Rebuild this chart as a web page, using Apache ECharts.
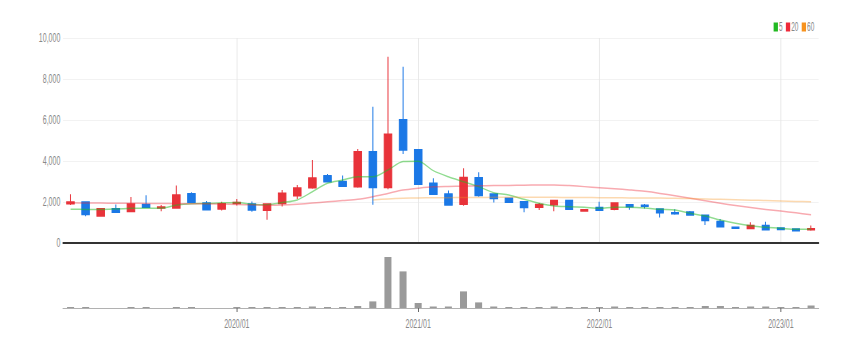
<!DOCTYPE html>
<html><head><meta charset="utf-8">
<script src="https://cdn.jsdelivr.net/npm/echarts@6/dist/echarts.min.js"></script>
<style>
html,body{margin:0;padding:0;background:#fff;overflow:hidden}
#wrap{width:859px;height:347px;overflow:hidden;position:relative}
#c{width:1591px;height:347px;transform:scaleX(0.54);transform-origin:0 0;position:absolute;left:0;top:0}
</style>
</head><body><div id="wrap"><div id="c"></div></div>
<script>
const categories = ['2019/02','2019/03','2019/04','2019/05','2019/06','2019/07','2019/08','2019/09','2019/10','2019/11','2019/12',
'2020/01','2020/02','2020/03','2020/04','2020/05','2020/06','2020/07','2020/08','2020/09','2020/10','2020/11','2020/12',
'2021/01','2021/02','2021/03','2021/04','2021/05','2021/06','2021/07','2021/08','2021/09','2021/10','2021/11','2021/12',
'2022/01','2022/02','2022/03','2022/04','2022/05','2022/06','2022/07','2022/08','2022/09','2022/10','2022/11','2022/12',
'2023/01','2023/02','2023/03'];
// [open, close, low, high]
const ohlc = [
[1920,1990,1850,2380],[1990,1400,1300,2000],[1330,1660,1310,1700],[1660,1510,1480,1880],[1550,1890,1500,2250],
[1870,1750,1720,2330],[1720,1750,1550,1850],[1720,2340,1700,2800],[2400,1990,1960,2480],[1950,1630,1600,2050],
[1660,1910,1590,2010],[1940,1970,1830,2150],[1900,1620,1530,2020],[1610,1890,1130,1920],[1940,2420,1780,2590],
[2310,2670,2150,2830],[2700,3160,2650,4050],[3270,3000,2950,3370],[2990,2780,2730,3290],[2750,4450,2700,4590],
[4450,2720,1860,6650],[2720,5300,2620,9090],[6000,4540,4340,8600],[4540,2870,2840,4560],[2910,2380,2350,3160],
[2380,1860,1840,2560],[1900,3190,1820,3650],[3170,2330,2260,3450],[2380,2180,1970,2400],[2180,1990,1970,2200],
[2000,1740,1500,2030],[1750,1870,1610,1950],[1870,2060,1550,2080],[2060,1650,1630,2080],[1570,1620,1560,1660],
[1720,1600,1590,2010],[1650,1940,1600,1960],[1860,1770,1620,1880],[1830,1800,1680,1900],[1650,1480,1250,1660],
[1470,1440,1380,1650],[1500,1370,1350,1560],[1350,1110,880,1370],[1040,800,790,1170],[760,730,720,770],
[720,850,700,1010],[850,650,640,1040],[720,670,660,740],[670,610,600,680],[650,690,600,850]];
const ma5 = [1650,1640,1640,1660,1690,1700,1700,1850,1920,1930,1960,1970,1890,1870,1970,2100,2500,2910,3070,3230,
3230,3560,3970,3990,3530,3230,2990,2750,2455,2340,2130,1935,1800,1770,1740,1690,1740,1740,1710,1645,
1610,1450,1320,1120,960,845,765,715,670,670];
const ma20 = [1960,1950,1950,1940,1940,1930,1930,1920,1920,1910,1900,1880,1860,1840,1850,1890,1950,2010,2070,2130,
2260,2420,2580,2670,2740,2760,2770,2790,2800,2810,2820,2830,2830,2800,2750,2700,2650,2590,2520,2420,
2300,2180,2060,1940,1830,1730,1640,1560,1470,1380];
const ma60 = ['-','-','-','-','-','-','-','-','-','-','-','-','-','-','-','-','-','-','-','-',
2100,2150,2180,2200,2210,2210,2220,2220,2230,2230,2230,2230,2230,2220,2220,2210,2210,2200,2200,2190,
2180,2170,2150,2130,2110,2090,2070,2050,2030,2010];
const volume = [1000,1000,0,0,1000,1000,0,1000,1000,0,0,1000,1000,1000,1000,1000,1500,1000,1000,2000,
6600,51000,36600,5000,1500,1500,16600,5600,1500,1000,1000,1000,1500,1000,1000,1000,1500,1000,1000,1000,
1000,1000,2000,2000,1000,1500,1500,1000,1000,2500];
const yTicks = [0,2000,4000,6000,8000,10000];

const FONT = "'Liberation Sans', Arial, sans-serif";
const isYear = (i, v) => String(v).slice(5) === '01';
const chart = echarts.init(document.getElementById('c'), null, {renderer: 'svg'});
chart.setOption({
  animation: false,
  backgroundColor: '#fff',
  legend: {
    data: ['5','20','60'], right: 78, top: 16, icon: 'rect', itemWidth: 8, itemHeight: 9, itemGap: 6,
    textStyle: {color: '#888', fontSize: 12, fontFamily: FONT, padding: [0,0,0,-3]}
  },
  grid: [
    {left: 116.7, right: 75, top: 38, height: 205},
    {left: 116.7, right: 75, top: 257, height: 51}
  ],
  xAxis: [
    {type: 'category', gridIndex: 0, data: categories, boundaryGap: true, offset: 7,
     axisLine: {lineStyle: {color: '#333', width: 2}}, axisTick: {show: false}, axisLabel: {show: false},
     splitLine: {show: true, alignWithLabel: true, interval: isYear, lineStyle: {color: '#e6e6e6', width: 1.6}}},
    {type: 'category', gridIndex: 1, data: categories, boundaryGap: true,
     axisLine: {lineStyle: {color: '#999', width: 1}},
     axisTick: {show: true, alignWithLabel: true, interval: isYear, length: 4, lineStyle: {color: '#666', width: 1.8}},
     axisLabel: {interval: isYear, color: '#888', fontSize: 13, fontFamily: FONT, margin: 9},
     splitLine: {show: false}}
  ],
  yAxis: [
    {type: 'value', gridIndex: 0, min: yTicks[0], max: yTicks[yTicks.length-1], interval: 2000,
     axisLine: {show: false}, axisTick: {show: false},
     axisLabel: {color: '#888', fontSize: 13, fontFamily: FONT, margin: 5,
       formatter: v => v.toLocaleString('en-US')},
     splitLine: {lineStyle: {color: '#eee'}}},
    {type: 'value', gridIndex: 1, min: 0, max: 'dataMax', show: false, splitLine: {show: false}}
  ],
  series: [
    {name: 'K', type: 'candlestick', xAxisIndex: 0, yAxisIndex: 0, data: ohlc, barWidth: 14,
     itemStyle: {color: '#e8333a', color0: '#1b78e6', borderColor: '#e8333a', borderColor0: '#1b78e6', borderWidth: 1.8}},
    {name: '5', type: 'line', data: ma5, smooth: 0.3, showSymbol: false, color: '#22b922',
     lineStyle: {width: 1.5, opacity: 0.5}},
    {name: '20', type: 'line', data: ma20, smooth: 0.3, showSymbol: false, color: '#ee2a3a',
     lineStyle: {width: 1.5, opacity: 0.4}},
    {name: '60', type: 'line', data: ma60, smooth: 0.3, showSymbol: false, color: '#f7921e',
     lineStyle: {width: 1.5, opacity: 0.35}},
    {name: 'Vol', type: 'bar', xAxisIndex: 1, yAxisIndex: 1, data: volume, barWidth: 13,
     itemStyle: {color: '#9a9a9a'}}
  ]
});
</script></body></html>
